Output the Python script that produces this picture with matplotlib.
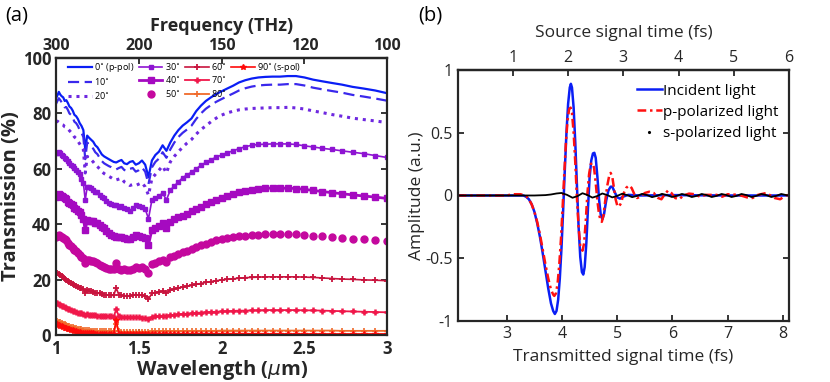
import numpy as np
import matplotlib
matplotlib.use("Agg")
import matplotlib.pyplot as plt
from matplotlib.lines import Line2D

plt.rcParams['font.family'] = ['Open Sans', 'DejaVu Sans']
plt.rcParams['axes.unicode_minus'] = False
plt.rcParams['mathtext.fontset'] = 'dejavusans'

# ---------------- panel (a): transmission vs wavelength ----------------
# sampling grid (um), uniform in frequency 300 -> 100 THz
wavelength = [
    1.0000, 1.0084, 1.0169, 1.0256, 1.0345, 1.0435, 1.0526, 1.0619, 1.0714, 1.0811,
    1.0909, 1.1009, 1.1111, 1.1215, 1.1321, 1.1429, 1.1538, 1.1650, 1.1765, 1.1881,
    1.2000, 1.2121, 1.2245, 1.2371, 1.2500, 1.2632, 1.2766, 1.2903, 1.3043, 1.3187,
    1.3333, 1.3483, 1.3636, 1.3793, 1.3953, 1.4118, 1.4286, 1.4458, 1.4634, 1.4815,
    1.5000, 1.5190, 1.5385, 1.5584, 1.5789, 1.6000, 1.6216, 1.6438, 1.6667, 1.6901,
    1.7143, 1.7391, 1.7647, 1.7910, 1.8182, 1.8462, 1.8750, 1.9048, 1.9355, 1.9672,
    2.0000, 2.0339, 2.0690, 2.1053, 2.1429, 2.1818, 2.2222, 2.2642, 2.3077, 2.3529,
    2.4000, 2.4490, 2.5000, 2.5532, 2.6087, 2.6667, 2.7273, 2.7907, 2.8571, 2.9268,
    3.0000]

T0 = [85.5, 86.5, 87.8, 86.8, 86.2, 85.8, 84.5, 84.8, 83.8, 82.5,
      82.0, 81.0, 79.5, 79.0, 78.0, 76.5, 75.5, 74.0, 67.0, 72.0,
      71.2, 70.5, 69.8, 68.5, 67.8, 66.5, 65.2, 64.5, 64.0, 63.5,
      63.0, 62.5, 62.3, 62.8, 63.2, 62.0, 61.7, 62.5, 62.8, 61.5,
      62.0, 63.0, 61.5, 57.0, 63.0, 65.0, 66.2, 68.5, 66.5, 69.5,
      72.0, 74.0, 75.6, 76.8, 78.2, 80.8, 82.8, 84.5, 85.8, 87.0,
      88.0, 89.0, 90.0, 91.2, 92.0, 92.6, 93.0, 93.2, 93.3, 93.3,
      93.5, 93.5, 93.0, 92.2, 91.6, 91.0, 90.4, 89.6, 89.0, 88.3,
      87.3]
T10 = [83.5, 84.5, 85.5, 84.8, 84.0, 83.5, 82.2, 82.3, 81.3, 80.0,
       79.5, 78.5, 77.0, 76.5, 75.5, 74.0, 73.0, 71.5, 63.5, 69.5,
       68.8, 68.0, 67.3, 66.0, 65.3, 64.0, 62.8, 62.0, 61.5, 61.0,
       60.6, 60.0, 59.8, 60.3, 60.7, 59.6, 59.2, 60.0, 60.3, 59.0,
       59.5, 60.5, 59.0, 54.5, 60.5, 62.5, 63.7, 66.0, 64.0, 67.0,
       69.5, 71.5, 73.0, 74.2, 75.6, 78.0, 80.0, 81.7, 83.0, 84.2,
       85.2, 86.2, 87.2, 88.3, 89.1, 89.7, 90.1, 90.3, 90.4, 90.4,
       90.6, 90.6, 90.1, 89.3, 88.7, 88.1, 87.5, 86.7, 86.1, 85.4,
       84.6]
T20 = [77.0, 77.2, 76.8, 76.5, 76.0, 75.8, 75.2, 75.0, 74.5, 73.8,
       73.2, 72.5, 71.5, 71.0, 70.0, 69.0, 68.0, 67.0, 58.5, 64.5,
       64.0, 63.3, 62.5, 61.5, 60.8, 60.0, 59.0, 58.3, 57.8, 57.3,
       56.8, 56.2, 56.0, 56.3, 56.6, 55.3, 54.8, 54.0, 54.3, 54.0,
       54.5, 55.0, 53.5, 50.5, 56.5, 58.0, 59.5, 61.0, 58.5, 62.5,
       64.5, 66.2, 67.8, 69.3, 70.6, 72.5, 74.2, 75.5, 77.0, 78.3,
       79.4, 80.2, 80.8, 81.3, 81.6, 81.8, 81.9, 82.0, 82.1, 82.1,
       82.2, 82.0, 81.6, 80.9, 80.3, 79.6, 79.0, 78.3, 77.8, 77.3,
       76.7]
T30 = [65.6, 65.8, 66.0, 65.8, 65.0, 64.5, 64.0, 63.6, 62.8, 62.0,
       61.5, 61.0, 60.3, 59.5, 58.8, 58.0, 56.5, 55.0, 48.7, 53.5,
       53.3, 53.0, 52.3, 51.8, 51.5, 50.6, 49.8, 49.3, 48.5, 47.8,
       47.3, 47.0, 46.9, 46.3, 46.5, 46.0, 45.5, 44.9, 45.8, 46.8,
       46.5, 46.2, 45.5, 42.0, 48.7, 49.5, 50.3, 51.2, 48.8, 52.3,
       53.8, 55.3, 56.8, 57.8, 58.8, 60.0, 61.3, 62.3, 63.3, 64.2,
       65.0, 65.8, 66.5, 67.3, 68.0, 68.5, 68.8, 68.9, 69.0, 69.0,
       69.0, 68.8, 68.3, 67.9, 67.4, 67.0, 66.5, 66.0, 65.5, 64.8,
       64.1]
T40 = [49.9, 50.5, 50.9, 50.6, 50.2, 49.8, 49.5, 49.0, 48.2, 47.5,
       47.2, 46.8, 46.0, 45.5, 44.8, 44.3, 43.2, 42.0, 37.8, 41.5,
       41.3, 41.0, 41.2, 40.6, 40.5, 39.8, 39.0, 38.5, 37.6, 36.8,
       36.2, 35.8, 35.5, 35.4, 35.3, 35.1, 34.8, 34.5, 35.5, 36.0,
       35.8, 35.4, 35.0, 32.5, 38.0, 38.8, 39.5, 40.3, 38.5, 40.9,
       41.8, 42.5, 43.1, 43.8, 44.7, 45.6, 46.4, 47.2, 48.0, 48.7,
       49.4, 50.1, 50.8, 51.5, 52.1, 52.5, 52.8, 53.0, 53.0, 53.0,
       53.0, 52.9, 52.6, 52.2, 51.8, 51.4, 51.0, 50.6, 50.2, 49.8,
       49.3]
T50 = [35.3, 35.8, 36.1, 35.8, 35.3, 35.0, 34.8, 34.2, 33.3, 32.6,
       32.0, 31.5, 30.8, 30.3, 29.6, 29.0, 28.3, 27.8, 26.1, 27.2,
       27.0, 26.8, 26.6, 26.3, 26.0, 25.4, 24.8, 24.5, 24.2, 24.0,
       23.8, 23.7, 26.0, 24.0, 23.6, 23.8, 23.5, 23.4, 24.0, 24.6,
       24.3, 24.5, 23.8, 22.3, 25.6, 26.1, 26.7, 27.2, 26.3, 28.0,
       28.7, 29.3, 30.0, 30.5, 31.0, 31.7, 32.4, 33.0, 33.6, 34.2,
       34.7, 35.1, 35.4, 35.7, 35.9, 36.1, 36.2, 36.3, 36.4, 36.4,
       36.4, 36.3, 36.1, 35.9, 35.6, 35.3, 35.0, 34.8, 34.5, 34.2,
       33.9]
T60 = [22.0, 22.5, 22.2, 21.8, 21.2, 20.8, 20.3, 19.9, 19.5, 19.2,
       18.8, 18.4, 18.0, 17.6, 17.3, 17.0, 16.8, 16.6, 15.2, 16.2,
       16.0, 15.8, 15.6, 15.3, 15.1, 15.0, 14.8, 14.6, 14.5, 14.4,
       14.3, 14.3, 17.0, 14.5, 14.3, 14.2, 14.2, 14.1, 14.5, 14.6,
       14.4, 14.3, 14.2, 13.0, 15.0, 15.3, 15.6, 15.8, 15.3, 16.2,
       16.6, 17.0, 17.3, 17.6, 17.9, 18.3, 18.6, 19.0, 19.3, 19.6,
       19.9, 20.1, 20.3, 20.5, 20.7, 20.8, 20.9, 21.0, 21.0, 21.0,
       21.0, 21.0, 20.9, 20.8, 20.6, 20.4, 20.2, 20.1, 19.9, 19.8,
       19.6]
T70 = [11.4, 11.6, 11.3, 11.0, 10.6, 10.3, 10.0, 9.7, 9.5, 9.3,
       9.0, 8.8, 8.5, 8.3, 8.1, 7.9, 7.8, 7.7, 7.3, 7.5,
       7.4, 7.3, 7.2, 7.1, 7.0, 6.9, 6.9, 6.8, 6.8, 6.7,
       6.7, 6.6, 9.3, 6.7, 6.6, 6.5, 6.5, 6.4, 6.5, 6.5,
       6.4, 6.3, 6.2, 5.9, 6.5, 6.7, 6.8, 7.0, 6.9, 7.2,
       7.3, 7.5, 7.6, 7.7, 7.8, 8.0, 8.1, 8.2, 8.3, 8.4,
       8.5, 8.6, 8.7, 8.8, 8.8, 8.9, 8.9, 9.0, 9.0, 9.0,
       9.0, 9.0, 8.9, 8.9, 8.8, 8.7, 8.6, 8.5, 8.4, 8.3,
       8.2]
T80 = [5.0, 5.0, 4.8, 4.6, 4.3, 4.1, 3.8, 3.6, 3.4, 3.2,
       3.0, 2.8, 2.6, 2.4, 2.2, 2.1, 2.0, 1.9, 1.9, 1.8,
       1.7, 1.6, 1.6, 1.5, 1.5, 1.4, 1.4, 1.3, 1.3, 1.3,
       1.3, 1.3, 4.0, 1.3, 1.2, 1.2, 1.2, 1.2, 1.2, 1.2,
       1.2, 1.2, 1.2, 1.1, 1.3, 1.3, 1.3, 1.4, 1.3, 1.4,
       1.4, 1.4, 1.4, 1.5, 1.5, 1.5, 1.5, 1.5, 1.5, 1.5,
       1.6, 1.6, 1.6, 1.6, 1.6, 1.6, 1.6, 1.6, 1.6, 1.6,
       1.6, 1.6, 1.6, 1.6, 1.6, 1.6, 1.5, 1.5, 1.5, 1.5,
       1.5]
T90 = [3.8, 3.8, 3.6, 3.4, 3.2, 3.0, 2.7, 2.5, 2.3, 2.1,
       1.9, 1.7, 1.5, 1.3, 1.2, 1.0, 0.9, 0.8, 0.8, 0.7,
       0.7, 0.6, 0.6, 0.5, 0.5, 0.5, 0.5, 0.4, 0.4, 0.4,
       0.4, 0.4, 5.5, 0.4, 0.4, 0.4, 0.3, 0.3, 0.3, 0.3,
       0.3, 0.3, 0.3, 0.2, 0.3, 0.3, 0.3, 0.3, 0.3, 0.3,
       0.3, 0.3, 0.3, 0.3, 0.3, 0.3, 0.3, 0.4, 0.4, 0.4,
       0.4, 0.4, 0.4, 0.4, 0.4, 0.4, 0.4, 0.4, 0.4, 0.4,
       0.4, 0.4, 0.4, 0.4, 0.4, 0.4, 0.4, 0.4, 0.4, 0.4,
       0.4]

angle_labels = ['0$^{\\circ}$ (p-pol)', '10$^{\\circ}$', '20$^{\\circ}$',
                '30$^{\\circ}$', '40$^{\\circ}$', '50$^{\\circ}$',
                '60$^{\\circ}$', '70$^{\\circ}$', '80$^{\\circ}$',
                '90$^{\\circ}$ (s-pol)']
freq_ticks = [300, 200, 150, 120, 100]

# ---------------- panel (b): time signals ----------------
t_inc = [2.11, 3.0, 3.3, 3.35, 3.40, 3.45, 3.50, 3.55, 3.60, 3.65, 3.70, 3.75,
         3.80, 3.84, 3.87, 3.90, 3.93, 3.96, 3.99, 4.02, 4.05, 4.08, 4.11,
         4.14, 4.16, 4.18, 4.21, 4.24, 4.27, 4.30, 4.33, 4.36, 4.385, 4.41,
         4.44, 4.47, 4.50, 4.53, 4.56, 4.585, 4.61, 4.64, 4.67, 4.70, 4.73,
         4.76, 4.80, 4.84, 4.88, 4.91, 4.95, 5.00, 5.05, 5.10, 5.20, 5.40,
         6.0, 7.0, 8.11]
a_inc = [0.0, 0.0, 0.0, -0.01, -0.03, -0.07, -0.13, -0.22, -0.33, -0.46, -0.60,
         -0.74, -0.86, -0.92, -0.944, -0.92, -0.83, -0.66, -0.42, -0.12, 0.20,
         0.50, 0.73, 0.86, 0.89, 0.86, 0.70, 0.42, 0.08, -0.25, -0.49, -0.61,
         -0.63, -0.57, -0.38, -0.10, 0.15, 0.28, 0.335, 0.34, 0.30, 0.15, -0.03,
         -0.15, -0.19, -0.15, -0.04, 0.04, 0.07, 0.07, 0.03, -0.015, -0.025,
         -0.01, 0.005, 0.0, 0.003, 0.0, 0.0]

t_p = [2.11, 3.0, 3.1, 3.25, 3.35, 3.40, 3.45, 3.50, 3.55, 3.60, 3.65, 3.70,
       3.75, 3.80, 3.84, 3.86, 3.89, 3.92, 3.95, 3.98, 4.01, 4.04, 4.07, 4.10,
       4.13, 4.155, 4.18, 4.21, 4.24, 4.27, 4.30, 4.33, 4.37, 4.40, 4.43, 4.46,
       4.49, 4.52, 4.55, 4.58, 4.61, 4.64, 4.67, 4.70, 4.72, 4.75, 4.78, 4.82,
       4.86, 4.88, 4.91, 4.94, 4.97, 5.00, 5.03, 5.07, 5.11, 5.16, 5.21, 5.26,
       5.31, 5.36, 5.42, 5.50, 5.58, 5.66, 5.74, 5.80, 5.86, 5.92, 5.98, 6.05,
       6.12, 6.20, 6.30, 6.40, 6.50, 6.60, 6.80, 6.90, 7.00, 7.20, 7.35, 7.45,
       7.55, 7.70, 7.85, 7.95, 8.05, 8.11]
a_p = [0.0, 0.0, 0.01, 0.01, -0.005, -0.03, -0.07, -0.13, -0.21, -0.31, -0.43,
       -0.55, -0.66, -0.75, -0.79, -0.80, -0.78, -0.70, -0.55, -0.35, -0.10,
       0.17, 0.42, 0.60, 0.69, 0.70, 0.66, 0.50, 0.26, -0.02, -0.25, -0.40,
       -0.44, -0.38, -0.20, 0.02, 0.17, 0.25, 0.26, 0.22, 0.10, -0.04, -0.15,
       -0.20, -0.21, -0.16, -0.05, 0.08, 0.17, 0.18, 0.15, 0.06, -0.03, -0.08,
       -0.09, -0.06, 0.01, 0.06, 0.08, 0.06, 0.01, -0.02, -0.01, 0.02, 0.03,
       0.02, -0.02, -0.03, 0.01, 0.04, 0.02, -0.02, -0.03, 0.0, 0.015, 0.01,
       -0.01, 0.005, 0.005, -0.01, 0.01, 0.005, -0.015, -0.02, 0.005, 0.02,
       -0.02, -0.03, 0.0, 0.005]

t_s = [2.11, 3.5, 3.7, 3.8, 3.9, 3.99, 4.09, 4.19, 4.28, 4.37, 4.46, 4.55,
       4.64, 4.73, 4.82, 4.91, 5.00, 5.09, 5.18, 5.27, 5.36, 5.45, 5.54, 5.63,
       5.72, 5.81, 5.90, 5.99, 6.08, 6.17, 6.26, 6.35, 6.44, 6.53, 6.62, 6.71,
       6.80, 6.89, 6.98, 7.07, 7.16, 7.25, 7.34, 7.43, 7.52, 7.61, 7.70, 7.79,
       7.88, 7.97, 8.06, 8.11]
a_s = [0.0, 0.0, 0.003, 0.008, 0.016, 0.02, 0.005, -0.018, -0.005, 0.018,
       0.004, -0.017, -0.004, 0.016, 0.003, -0.015, -0.003, 0.014, 0.003,
       -0.013, -0.003, 0.013, 0.003, -0.013, -0.003, 0.013, 0.003, -0.012,
       -0.003, 0.012, 0.003, -0.012, -0.003, 0.012, 0.003, -0.012, -0.003,
       0.012, 0.003, -0.012, -0.003, 0.012, 0.003, -0.012, -0.003, 0.012,
       0.003, -0.012, -0.003, 0.012, 0.003, 0.0]

C_LIGHT = 300.0  # THz*um

fig = plt.figure(figsize=(8.3, 3.82), dpi=100)
ax1 = fig.add_axes([0.0675, 0.123, 0.399, 0.725])
ax2 = fig.add_axes([0.5514, 0.1597, 0.3992, 0.6571])

spine_c = '#262626'

# panel a curves: (data, color, style kwargs)
styles = [
    (T0, '#0A1EF5', dict(ls='-', lw=1.6)),
    (T10, '#3A28EC', dict(ls=(0, (5, 2.5)), lw=1.6)),
    (T20, '#6E28E0', dict(ls=(0, (1, 1.6)), lw=2.2)),
    (T30, '#8E14D2', dict(ls='-', lw=1.2, marker='s', ms=2.2)),
    (T40, '#A50AC0', dict(ls='-', lw=2.0, marker='s', ms=3.8)),
    (T50, '#C4089E', dict(ls='none', marker='o', ms=5.0)),
    (T60, '#C8143E', dict(ls='-', lw=1.2, marker='+', ms=5.0, mew=1.3)),
    (T70, '#F0174A', dict(ls='-', lw=1.3, marker='+', ms=5.0, mew=1.8)),
    (T80, '#F06A2A', dict(ls='-', lw=1.3, marker='+', ms=4.0, mew=1.2)),
    (T90, '#FF0A0A', dict(ls='-', lw=1.2, marker='*', ms=4.0)),
]
handles = []
for (vals, col, kw), lab in zip(styles, angle_labels):
    h, = ax1.plot(wavelength, vals, color=col, label=lab, **kw)
    handles.append(h)

# two empty entries so the legend fills columns 3-3-3-1
blank = Line2D([], [], ls='none', marker='none')
leg_handles = handles + [blank, blank]
leg_labels = angle_labels + ['', '']
ax1.legend(leg_handles, leg_labels, ncol=4, loc='upper left',
           bbox_to_anchor=(0.02, 1.01), frameon=False, fontsize=6.5,
           handlelength=2.6, handletextpad=0.3, columnspacing=0.5,
           labelspacing=0.3, borderaxespad=0.2)

ax1.set_xlim(1, 3)
ax1.set_ylim(0, 100)
ax1.set_xticks([1, 1.5, 2, 2.5, 3])
ax1.set_xticklabels(['1', '1.5', '2', '2.5', '3'])
ax1.set_yticks([0, 20, 40, 60, 80, 100])
ax1.tick_params(direction='in', length=4, width=1.3, labelsize=12,
                right=True, colors=spine_c)
for lab in ax1.get_xticklabels() + ax1.get_yticklabels():
    lab.set_fontweight('bold')
for sp in ax1.spines.values():
    sp.set_linewidth(1.6)
    sp.set_color(spine_c)
ax1.set_xlabel('Wavelength ($\\mu$m)', fontsize=14.5, fontweight='bold',
               labelpad=0, color=spine_c)
ax1.set_ylabel('Transmission (%)', fontsize=14.5, fontweight='bold',
               labelpad=1, color=spine_c)


def wl2f(x):
    x = np.asarray(x, dtype=float)
    with np.errstate(divide='ignore'):
        return C_LIGHT / x


top1 = ax1.secondary_xaxis('top', functions=(wl2f, wl2f))
top1.set_xticks(freq_ticks)
top1.set_xticklabels([str(f) for f in freq_ticks])
top1.tick_params(direction='in', length=4, width=1.3, labelsize=11.5,
                 colors=spine_c, pad=3)
top1.xaxis.set_minor_locator(matplotlib.ticker.NullLocator())
for lab in top1.get_xticklabels():
    lab.set_fontweight('bold')
top1.spines['top'].set_linewidth(1.6)
top1.set_xlabel('Frequency (THz)', fontsize=13, fontweight='bold',
                labelpad=5, color=spine_c)

# panel b
ax2.plot(t_inc, a_inc, color='#0A1EF5', lw=1.8, label='Incident light')
ax2.plot(t_p, a_p, color='#FF1010', lw=1.8, ls=(0, (3.5, 1.5, 1, 1.5)),
         label='p-polarized light')
ax2.plot(t_s, a_s, color='black', lw=1.3)
s_handle = Line2D([], [], ls='none', marker='.', ms=2.5, color='black')
h_b, l_b = ax2.get_legend_handles_labels()
ax2.legend(h_b + [s_handle], l_b + ['s-polarized light'], loc='upper right',
           bbox_to_anchor=(1.01, 1.0), frameon=False, fontsize=11,
           handlelength=1.6, handletextpad=0.1, labelspacing=0.4)
ax2.set_xlim(2.11, 8.11)
ax2.set_ylim(-1, 1)
ax2.set_xticks([3, 4, 5, 6, 7, 8])
ax2.set_yticks([-1, -0.5, 0, 0.5, 1])
ax2.set_yticklabels(['-1', '-0.5', '0', '0.5', '1'])
ax2.tick_params(direction='in', length=4, width=1.3, labelsize=11.5,
                right=True, colors=spine_c)
for sp in ax2.spines.values():
    sp.set_linewidth(1.6)
    sp.set_color(spine_c)
ax2.set_xlabel('Transmitted signal time (fs)', fontsize=12.5, color=spine_c,
               labelpad=5)
ax2.set_ylabel('Amplitude (a.u.)', fontsize=12.5, color=spine_c, labelpad=0)

top2 = ax2.secondary_xaxis('top', functions=(lambda x: x - 2.11,
                                             lambda x: x + 2.11))
top2.set_xticks([1, 2, 3, 4, 5, 6])
top2.tick_params(direction='in', length=4, width=1.3, labelsize=11.5,
                 colors=spine_c, pad=3)
top2.spines['top'].set_linewidth(1.6)
top2.set_xlabel('Source signal time (fs)', fontsize=12.5, color=spine_c,
                labelpad=9)

fig.text(0.006, 0.985, '(a)', fontsize=14.5, va='top', ha='left', color='black')
fig.text(0.504, 0.985, '(b)', fontsize=14.5, va='top', ha='left', color='black')

fig.savefig('out.png', dpi=100)
